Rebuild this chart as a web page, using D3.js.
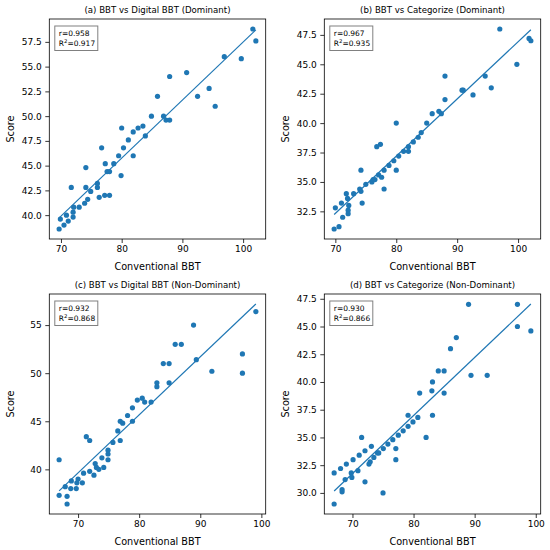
<!DOCTYPE html>
<html lang="en">
<head>
<meta charset="UTF-8">
<title>BBT correlation scatter</title>
<style>
body { margin: 0; background: #fff; }
text { font-family: "DejaVu Sans", sans-serif; fill: #000; }
.axis path, .axis line { stroke: #000; stroke-width: 0.8; }
.axis text { font-size: 9px; }
.frame { fill: none; stroke: #000; stroke-width: 0.8; }
.dot { fill: #1f77b4; }
.fit { fill: none; stroke: #1f77b4; stroke-width: 1.2; }
.statbox { fill: #fff; stroke: #808080; stroke-width: 1; }
</style>
</head>
<body>
<svg width="550" height="550"></svg>
<script src="https://d3js.org/d3.v7.min.js"></script>
<script>

// panel titles and stats
const titles = [
    '(a) BBT vs Digital BBT (Dominant)',
    '(b) BBT vs Categorize (Dominant)',
    '(c) BBT vs Digital BBT (Non-Dominant)',
    '(d) BBT vs Categorize (Non-Dominant)'
];
const rText = ['0.958', '0.967', '0.932', '0.930'];
const r2Text = ['0.917', '0.935', '0.868', '0.866'];

// (a) dominant hand, digital BBT
const aX = [69.7, 69.9, 70.5, 70.9, 71.2, 71.7, 72.0, 72.0, 72.1, 73.0, 73.9, 74.1, 74.1, 74.4, 74.9,
    76.0, 76.0, 76.3, 76.7, 77.2, 77.3, 77.6, 78.0, 78.0, 78.7, 79.5, 79.9, 80.0, 80.3, 81.1,
    81.9, 81.9, 82.7, 83.5, 83.9, 84.9, 85.9, 86.9, 87.3, 87.9, 87.9, 90.7, 92.5, 94.4, 95.4,
    96.9, 99.7, 101.6, 102.1];
const aY = [38.6, 39.6, 39.0, 40.0, 39.4, 42.8, 39.8, 40.3, 40.8, 40.8, 41.2, 42.8, 44.8, 41.6, 42.4,
    42.8, 43.2, 41.8, 46.8, 42.0, 45.2, 44.4, 44.4, 42.0, 45.2, 46.0, 44.0, 48.8, 46.8, 47.6,
    48.4, 46.0, 48.8, 49.0, 48.0, 50.0, 52.0, 50.0, 49.6, 49.6, 54.0, 54.4, 52.0, 52.8, 51.0,
    56.0, 55.8, 58.8, 57.6];

// (b) dominant hand, categorize
const bX = [69.8, 70.0, 70.6, 71.0, 71.2, 71.8, 72.0, 72.1, 72.1, 72.2, 73.0, 74.0, 74.2, 74.2, 74.4,
    75.0, 76.0, 76.2, 76.5, 76.8, 77.4, 77.1, 77.6, 78.0, 78.0, 78.8, 79.6, 80.0, 80.0, 80.4,
    81.2, 82.0, 82.0, 82.8, 83.6, 84.1, 85.0, 85.9, 87.0, 87.4, 88.0, 88.0, 90.8, 91.0, 92.6,
    94.6, 95.6, 97.0, 99.8, 101.8, 102.1];
const bY = [31.0, 32.8, 31.2, 33.2, 32.0, 34.0, 33.6, 32.6, 32.3, 33.0, 34.0, 34.4, 34.2, 36.0, 33.2,
    34.8, 35.0, 35.2, 35.2, 38.0, 38.2, 35.6, 35.4, 36.0, 34.4, 36.4, 36.8, 40.0, 36.0, 37.2,
    37.6, 38.0, 37.6, 38.4, 38.8, 39.2, 40.0, 40.8, 41.0, 40.8, 42.0, 44.0, 42.8, 42.8, 42.4,
    44.0, 43.0, 48.0, 45.0, 47.2, 47.0];

// (c) non-dominant hand, digital BBT
const cX = [66.9, 66.9, 67.9, 68.2, 68.2, 68.8, 68.9, 69.7, 69.8, 70.0, 70.7, 70.9, 71.35, 71.9, 71.9,
    72.6, 72.8, 73.0, 73.4, 73.9, 74.2, 74.9, 74.9, 74.9, 75.7, 76.5, 76.9, 76.9, 77.3, 78.1,
    78.9, 78.9, 79.7, 80.5, 80.9, 81.95, 82.9, 82.9, 83.95, 84.9, 84.9, 85.9, 86.9, 88.9, 89.35,
    91.9, 96.9, 96.9, 99.1];
const cY = [41.0, 37.3, 38.2, 37.2, 36.4, 38.0, 38.8, 38.0, 38.6, 39.0, 38.6, 39.6, 43.4, 43.0, 39.8,
    39.4, 40.6, 40.2, 40.0, 41.2, 40.2, 41.0, 41.6, 42.0, 42.8, 44.0, 45.0, 43.0, 44.8, 45.6,
    46.4, 45.0, 47.2, 47.4, 47.0, 47.0, 49.0, 48.6, 51.0, 51.0, 49.0, 53.0, 53.0, 55.0, 51.4,
    50.2, 52.0, 50.0, 56.4];

// (d) non-dominant hand, categorize
const dX = [67.0, 67.0, 68.05, 68.3, 68.3, 68.8, 69.0, 69.8, 69.9, 70.1, 70.9, 71.1, 71.5, 72.05, 72.05,
    72.7, 72.9, 73.1, 73.5, 74.1, 74.3, 75.0, 75.05, 75.8, 76.6, 77.1, 77.1, 77.5, 78.3, 79.1,
    79.1, 79.9, 80.7, 81.0, 82.05, 83.0, 83.1, 83.1, 84.05, 85.0, 85.0, 86.05, 87.0, 89.0, 89.4,
    92.05, 97.0, 97.0, 99.2];
const dY = [29.0, 31.8, 32.2, 30.3, 30.1, 31.2, 32.6, 31.8, 31.4, 33.0, 32.0, 33.4, 35.0, 31.0, 33.8,
    32.6, 32.8, 34.2, 33.2, 33.6, 33.6, 30.0, 34.0, 34.4, 34.8, 34.0, 33.0, 35.2, 35.6, 36.0,
    37.0, 36.4, 36.8, 39.0, 35.0, 39.2, 40.0, 37.0, 41.0, 41.0, 39.0, 43.0, 44.0, 47.0, 40.6,
    40.6, 47.0, 45.0, 44.6];

// tick values
const xTicks = [70, 80, 90, 100];
const yTicksA = [40, 42.5, 45, 47.5, 50, 52.5, 55, 57.5];
const yTicksB = [32.5, 35, 37.5, 40, 42.5, 45, 47.5];
const yTicksC = [40, 45, 50, 55];
const yTicksD = [30, 32.5, 35, 37.5, 40, 42.5, 45, 47.5];

const panels = [
    { xs: aX, ys: aY, yTicks: yTicksA, fmt: '.1f', col: 0, row: 0 },
    { xs: bX, ys: bY, yTicks: yTicksB, fmt: '.1f', col: 1, row: 0 },
    { xs: cX, ys: cY, yTicks: yTicksC, fmt: 'd',   col: 0, row: 1 },
    { xs: dX, ys: dY, yTicks: yTicksD, fmt: '.1f', col: 1, row: 1 }
];

const svg = d3.select('svg');

const plotW = 216.4;
const plotH = 220;
const offX = [49.3, 324.3];
const offY = [19, 294];

// least squares fit
function fit(xs, ys) {
    const mx = d3.mean(xs), my = d3.mean(ys);
    let sxy = 0, sxx = 0;
    xs.forEach((x, i) => {
        sxy += (x - mx) * (ys[i] - my);
        sxx += (x - mx) * (x - mx);
    });
    const slope = sxy / sxx;
    return { slope: slope, icpt: my - slope * mx };
}

// matplotlib style 5% margin
function padded(ext) {
    const m = (ext[1] - ext[0]) * 0.05;
    return [ext[0] - m, ext[1] + m];
}

panels.forEach((p, i) => {
    const g = svg.append('g')
        .attr('transform', `translate(${offX[p.col]},${offY[p.row]})`);

    const f = fit(p.xs, p.ys);
    const xExt = d3.extent(p.xs);
    const linePts = xExt.map(x => [x, f.icpt + f.slope * x]);

    const x = d3.scaleLinear()
        .domain(padded(xExt))
        .range([0, plotW]);
    const y = d3.scaleLinear()
        .domain(padded(d3.extent(p.ys.concat(linePts.map(d => d[1])))))
        .range([plotH, 0]);

    g.append('g')
        .attr('class', 'axis')
        .attr('transform', `translate(0,${plotH})`)
        .call(d3.axisBottom(x).tickValues(xTicks).tickSize(4).tickPadding(2.5).tickFormat(d3.format('d')))
        .select('.domain').remove();

    g.append('g')
        .attr('class', 'axis')
        .call(d3.axisLeft(y).tickValues(p.yTicks).tickSize(4).tickPadding(3.5).tickFormat(d3.format(p.fmt)))
        .select('.domain').remove();

    g.append('rect')
        .attr('class', 'frame')
        .attr('width', plotW)
        .attr('height', plotH);

    g.append('g').selectAll('circle')
        .data(p.xs.map((d, k) => [d, p.ys[k]]))
        .join('circle')
        .attr('class', 'dot')
        .attr('cx', d => x(d[0]))
        .attr('cy', d => y(d[1]))
        .attr('r', 2.6);

    g.append('path')
        .attr('class', 'fit')
        .attr('d', d3.line().x(d => x(d[0])).y(d => y(d[1]))(linePts));

    // stats box
    const box = g.append('g').attr('transform', 'translate(5.5,7)');
    box.append('rect')
        .attr('class', 'statbox')
        .attr('width', 43)
        .attr('height', 24.5);
    box.append('text')
        .attr('x', 4)
        .attr('y', 10)
        .style('font-size', '7.5px')
        .text('r=' + rText[i]);
    const t2 = box.append('text')
        .attr('x', 4)
        .attr('y', 20)
        .style('font-size', '7.5px');
    t2.append('tspan').text('R');
    t2.append('tspan').attr('dy', -3).style('font-size', '5.3px').text('2');
    t2.append('tspan').attr('dy', 3).text('=' + r2Text[i]);

    // titles and labels
    g.append('text')
        .attr('x', plotW / 2)
        .attr('y', -6)
        .attr('text-anchor', 'middle')
        .style('font-size', '8.6px')
        .text(titles[i]);

    g.append('text')
        .attr('x', plotW / 2)
        .attr('y', plotH + 30.5)
        .attr('text-anchor', 'middle')
        .style('font-size', '9.7px')
        .text('Conventional BBT');

    g.append('text')
        .attr('transform', `translate(-35.5,${plotH / 2}) rotate(-90)`)
        .attr('text-anchor', 'middle')
        .style('font-size', '9.7px')
        .text('Score');
});

</script>
</body>
</html>
